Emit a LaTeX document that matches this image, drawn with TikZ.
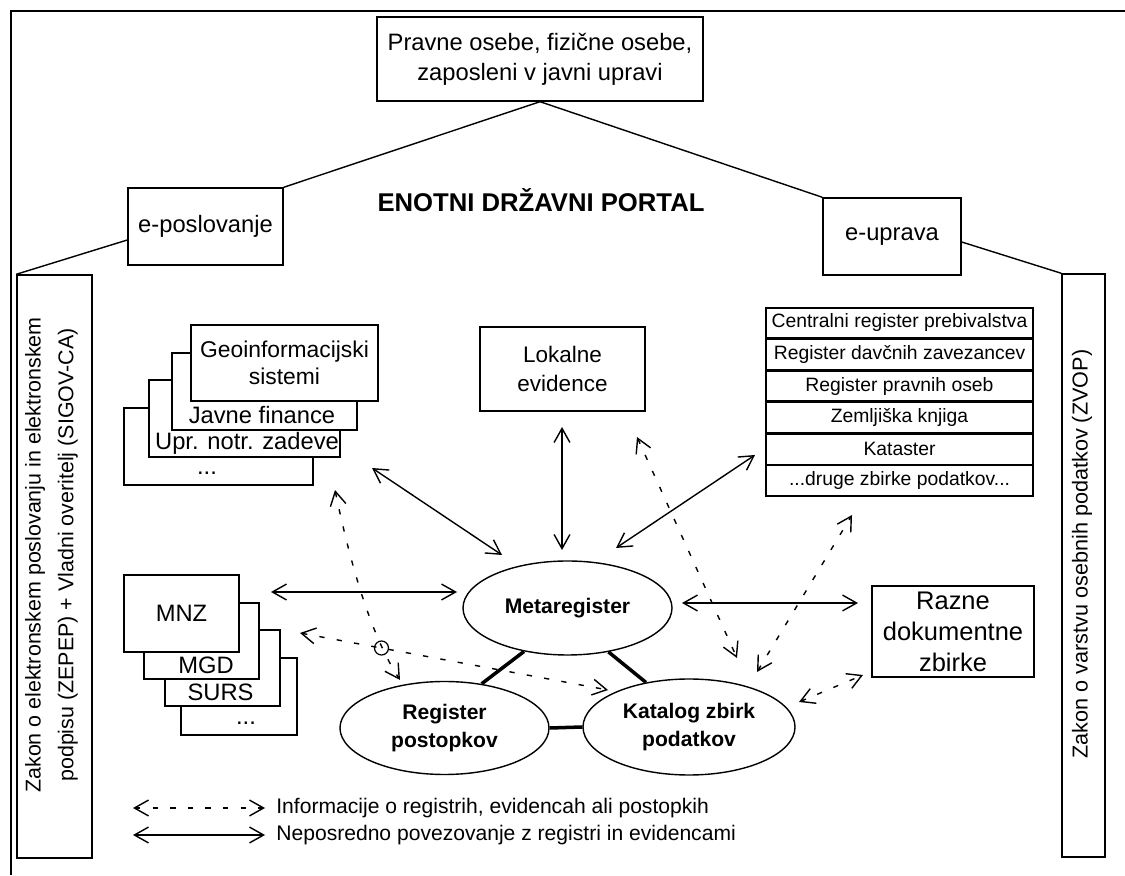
\documentclass[tikz,border=0pt]{standalone}
\usepackage{fontspec}
\setmainfont{Liberation Sans}
\usepackage{tikz}
\usetikzlibrary{shapes.geometric,arrows.meta}

\begin{document}
\begin{tikzpicture}[
        box/.style={draw, line width=0.8pt, fill=white, inner sep=0pt},
        txt/.style={font=\fontsize{13.5}{17}\selectfont, align=center, inner sep=0pt},
        bigtxt/.style={font=\fontsize{14.5}{17.6}\selectfont, align=center, inner sep=0pt},
        rowbox/.style={box, minimum width=5.34cm, minimum height=0.603cm, font=\fontsize{11}{13}\selectfont},
        oval/.style={draw, ellipse, line width=0.8pt, inner sep=0pt, align=center, font=\fontsize{12}{16}\selectfont\bfseries},
        link/.style={line width=0.8pt, {Straight Barb[length=8pt,width=9pt]}-{Straight Barb[length=8pt,width=9pt]}},
        info/.style={link, dash pattern=on 3pt off 7pt},
        bond/.style={line width=2pt},
    ]
            \useasboundingbox (0,0) rectangle (22.5,17.5);
            % frame
            \draw[line width=0.8pt] (0.22,0) -- (0.22,17.28) -- (22.5,17.28);

            % roof
            \node[box, txt, minimum width=6.52cm, minimum height=1.68cm] (users) at (10.8,16.32) {Pravne osebe, fizične osebe,\\zaposleni v javni upravi};
            \node[box, txt, minimum width=3.1cm, minimum height=1.54cm] (epos) at (4.11,12.97) {e-poslovanje};
            \node[box, txt, minimum width=2.76cm, minimum height=1.54cm] (eupr) at (17.84,12.77) {e-uprava};
            \node[font=\fontsize{14.6}{17}\selectfont\bfseries] (portal) at (10.82,13.5) {ENOTNI DRŽAVNI PORTAL};
            \node[box, minimum width=1.5cm, minimum height=11.66cm] (zepep) at (1.09,6.17) {};
            \node[box, minimum width=0.86cm, minimum height=11.66cm] (zvop) at (21.67,6.19) {};
            \node[rotate=90, align=center, font=\fontsize{12.2}{18.7}\selectfont] (zepeptxt) at (1.03,6.4) {Zakon o elektronskem poslovanju in elektronskem\\podpisu (ZEPEP) + Vladni overitelj (SIGOV-CA)};
            \node[rotate=90, font=\fontsize{12.3}{15}\selectfont] (zvoptxt) at (21.64,6.42) {Zakon o varstvu osebnih podatkov (ZVOP)};
            \draw[line width=0.8pt] (users.south) -- (epos.north east);
            \draw[line width=0.8pt] (users.south) -- (eupr.north west);
            \draw[line width=0.8pt] ([yshift=-2.7mm]epos.west) -- (zepep.north west);
            \draw[line width=0.8pt] ([yshift=-1.1mm]eupr.east) -- (zvop.north west);

            % stack of systems
            \node[box, minimum width=3.78cm, minimum height=1.54cm] (dotsA) at (4.37,8.57) {};
            \node[box, minimum width=3.82cm, minimum height=1.54cm] (upr) at (4.89,9.13) {};
            \node[box, minimum width=3.7cm, minimum height=1.54cm] (jf) at (5.29,9.67) {};
            \node[box, minimum width=3.74cm, minimum height=1.52cm, font=\fontsize{13}{15.6}\selectfont, align=center] (geo) at (5.69,10.24) {Geoinformacijski\\sistemi};
            \node[txt] (jftxt) at (5.24,9.2) {Javne finance};
            \node[txt] (uprtxt) at (4.94,8.64) {Upr. notr. zadeve};
            \node[txt] (dotsAtxt) at (4.14,8.03) {...};

            % stack of ministries
            \node[box, minimum width=2.32cm, minimum height=1.54cm] (dotsB) at (4.78,3.57) {};
            \node[box, minimum width=2.3cm, minimum height=1.52cm] (surs) at (4.45,4.14) {};
            \node[box, minimum width=2.3cm, minimum height=1.52cm] (mgd) at (4.03,4.68) {};
            \node[box, txt, minimum width=2.3cm, minimum height=1.54cm] (mnz) at (3.63,5.23) {MNZ};
            \node[txt] (mgdtxt) at (4.12,4.2) {MGD};
            \node[txt] (urstxt) at (4.41,3.66) {SURS};
            \node[txt] (dotsBtxt) at (4.92,3.04) {...};

            % local records
            \node[box, font=\fontsize{12.8}{17}\selectfont, align=center, minimum width=3.3cm, minimum height=1.68cm] (lok) at (11.25,10.12) {Lokalne\\evidence};

            % registers
            \node[rowbox] (r1) at (17.99,11.04) {Centralni register prebivalstva};
            \node[rowbox, anchor=north] (r2) at (r1.south) {Register davčnih zavezancev};
            \node[rowbox, anchor=north] (r3) at (r2.south) {Register pravnih oseb};
            \node[rowbox, anchor=north] (r4) at (r3.south) {Zemljiška knjiga};
            \node[rowbox, anchor=north] (r5) at (r4.south) {Kataster};
            \node[rowbox, anchor=north] (r6) at (r5.south) {...druge zbirke podatkov...};

            \node[box, bigtxt, minimum width=3.24cm, minimum height=1.82cm] (raz) at (19.06,4.87) {Razne\\dokumentne\\zbirke};

            % core
            \node[oval, minimum width=4.18cm, minimum height=1.88cm] (meta) at (11.35,5.34) {Metaregister};
            \node[oval, minimum width=4.18cm, minimum height=1.86cm] (reg) at (8.89,2.94) {Register\\postopkov};
            \node[oval, minimum width=4.24cm, minimum height=1.92cm] (kat) at (13.78,2.96) {Katalog zbirk\\podatkov};
            \draw[bond] (meta.225) -- (reg.50);
            \draw[bond] (meta.313) -- (kat.134);
            \draw[bond] (reg.east) -- (kat.west);

            % direct links
            \coordinate (geoA) at (7.44,8.14);
            \coordinate (metaA) at (10.04,6.4);
            \coordinate (lokB) at (11.24,8.96);
            \coordinate (metaB) at (11.24,6.5);
            \coordinate (r6C) at (15.1,8.4);
            \coordinate (metaC) at (12.32,6.54);
            \coordinate (mnzD) at (5.42,5.66);
            \coordinate (metaD) at (9.14,5.66);
            \coordinate (metaE) at (13.64,5.44);
            \coordinate (razE) at (17.16,5.44);
            \draw[link] (geoA) -- (metaA);
            \draw[link] (lokB) -- (metaB);
            \draw[link] (r6C) -- (metaC);
            \draw[link] (mnzD) -- (metaD);
            \draw[link] (metaE) -- (razE);

            % information links
            \coordinate (geoF) at (6.7,7.7);
            \coordinate (regF) at (8.0,3.9);
            \coordinate (mnzG) at (6.0,4.84);
            \coordinate (katG) at (12.16,3.7);
            \coordinate (lokH) at (12.74,8.76);
            \coordinate (katH) at (14.74,4.34);
            \coordinate (katI) at (15.14,4.06);
            \coordinate (r6I) at (17.04,7.2);
            \coordinate (katJ) at (15.98,3.46);
            \coordinate (razJ) at (17.26,4.0);
            \draw[info] (geoF) .. controls (6.95,6.5) and (7.35,4.9) .. (regF);
            \draw[info] (mnzG) -- (katG);
            \draw[info] (lokH) -- (katH);
            \draw[info] (katI) -- (r6I);
            \draw[info] (katJ) -- (razJ);
            \coordinate (hop) at (7.63,4.54);
            \draw[line width=0.7pt] (hop) circle (0.14);

            % legend
            \coordinate (legA1) at (2.66,1.34);
            \coordinate (legA2) at (5.3,1.34);
            \coordinate (legB1) at (2.66,0.8);
            \coordinate (legB2) at (5.3,0.8);
            \draw[info] (legA1) -- (legA2);
            \draw[link] (legB1) -- (legB2);
            \node[anchor=west, inner sep=0pt, font=\fontsize{12}{15}\selectfont] (legA) at (5.52,1.34) {Informacije o registrih, evidencah ali postopkih};
            \node[anchor=west, inner sep=0pt, font=\fontsize{12}{15}\selectfont] (legB) at (5.52,0.8) {Neposredno povezovanje z registri in evidencami};
        \end{tikzpicture}
\end{document}
